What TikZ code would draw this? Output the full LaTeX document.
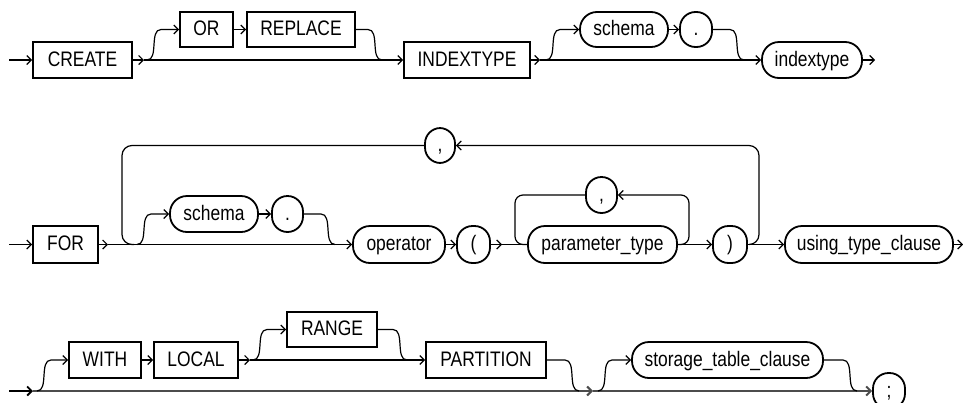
\documentclass[tikz,border=0pt]{standalone}
\usepackage{fontspec}
\setmainfont{Liberation Sans}[FakeStretch=0.83]
\usetikzlibrary{arrows.meta}
\begin{document}
\begin{tikzpicture}[x=1pt,y=-1pt,
  box/.style={draw, line width=1.8pt, inner sep=0pt, font=\fontsize{21}{24}\selectfont,
    text height=15.5pt, text depth=3pt, minimum height=36pt},
  kw/.style={box, rectangle},
  nt/.style={box, rectangle, rounded corners=17pt},
  pc/.style={box, rectangle, rounded corners=15.5pt},
  conn/.style={line width=1.2pt},
  tip/.style={-{Straight Barb[length=4.5pt,width=9pt]}},
  arr/.style={conn, tip},
  mainln/.style={line width=2pt, draw=black!70},
]
\useasboundingbox (0,0) rectangle (963,402);

% ---------- Row 1 ----------
\node[kw, minimum width=99pt]  (create)  at (82.5,60)   {CREATE};
\node[kw, minimum width=53pt, minimum height=35pt]  (or) at (206.5,29.5) {OR};
\node[kw, minimum width=108pt, minimum height=35pt] (replace) at (301,29.5) {REPLACE};
\node[kw, minimum width=126pt] (idxkw)   at (467,60)    {INDEXTYPE};
\node[nt, minimum width=88pt, minimum height=35pt]  (schema1) at (624,29.5) {schema};
\node[pc, minimum width=32pt, minimum height=35pt]  (dot1) at (696,29.5) {.};
\node[nt, minimum width=100pt] (idxnt)   at (812,60)    {indextype};

\coordinate (r1in) at (9,60);
\coordinate (r1a) at (144,60);
\coordinate (r1b) at (540,60);
\coordinate (r1out) at (875,60);

\draw[arr] (r1in) -- (create);
\draw[arr] (create) -- (r1a);
\draw[arr] (r1a) -- (idxkw);
\draw[arr] (147,60) .. controls (159,60) and (149,29.5) .. (161,29.5) -- (or);
\draw[arr] (or) -- (replace);
\draw[conn] (replace) -- (368,29.5) .. controls (380,29.5) and (370,60) .. (382,60);
\draw[arr] (idxkw) -- (r1b);
\draw[arr] (r1b) -- (idxnt);
\draw[arr] (546,60) .. controls (558,60) and (548,29.5) .. (560,29.5) -- (schema1);
\draw[arr] (schema1) -- (dot1);
\draw[conn] (dot1) -- (730,29.5) .. controls (742,29.5) and (732,60) .. (744,60);
\draw[arr] (idxnt) -- (r1out);

% ---------- Row 2 ----------
\node[kw, minimum width=65pt, minimum height=37pt] (for) at (65.5,244.5) {FOR};
\node[pc, minimum width=30pt, minimum height=35pt] (comma1) at (440,145.5) {,};
\node[nt, minimum width=88pt] (schema2) at (214,214) {schema};
\node[pc, minimum width=31pt] (dot2) at (287.5,214) {.};
\node[nt, minimum width=92pt, minimum height=37pt] (operator) at (399,244.5) {operator};
\node[pc, minimum width=33pt, minimum height=37pt] (lparen) at (473.5,244.5) {(};
\node[pc, minimum width=31pt] (comma2) at (601.5,195) {,};
\node[nt, minimum width=149pt, minimum height=37pt] (param) at (602.5,244.5) {parameter\_type};
\node[pc, minimum width=34pt, minimum height=37pt] (rparen) at (730,244.5) {)};
\node[nt, minimum width=168pt, minimum height=37pt] (using) at (869,244.5) {using\_type\_clause};

\coordinate (r2in) at (9,244.5);
\coordinate (r2a) at (108,244.5);
\coordinate (r2b) at (502,244.5);
\coordinate (r2out) at (963,244.5);

\draw[arr] (r2in) -- (for);
\draw[arr] (for) -- (r2a);
\draw[arr] (r2a) -- (operator);
\draw[arr] (137,244.5) .. controls (149,244.5) and (139,214) .. (151,214) -- (schema2);
\draw[arr] (schema2) -- (dot2);
\draw[conn] (dot2) -- (321,214) .. controls (333,214) and (323,244.5) .. (335,244.5);
\draw[arr] (operator) -- (lparen);
\draw[arr] (lparen) -- (r2b);
\draw[conn] (r2b) -- (param);
\draw[arr, rounded corners=8pt] (param.east) -| (689,195) -- (comma2.east);
\draw[conn, rounded corners=8pt] (comma2.west) -| (515,244.5) -- (param.west);
\draw[arr] (param) -- (rparen);
\draw[arr] (rparen) -- (using);
\draw[arr, rounded corners=10pt] (749,244.5) -| (759,145.5) -- (comma1.east);
\draw[conn, rounded corners=10pt] (comma1.west) -| (122,244.5) -- (134,244.5);
\draw[arr] (using) -- (r2out);

% ---------- Row 3 ----------
\node[kw, minimum width=72pt] (with) at (105,360) {WITH};
\node[kw, minimum width=84pt] (local) at (196,360) {LOCAL};
\node[kw, minimum width=90pt, minimum height=35pt] (range) at (332,329.5) {RANGE};
\node[kw, minimum width=120pt] (partition) at (486,360) {PARTITION};
\node[nt, minimum width=191pt] (storage) at (727.5,360) {storage\_table\_clause};
\node[pc, minimum width=32pt] (semi) at (889,391) {;};

\coordinate (r3in) at (9,391);
\coordinate (r3a) at (33,391);
\coordinate (r3b) at (593,391);
\coordinate (r3c) at (250,360);

\draw[line width=1.8pt, tip] (r3in) -- (r3a);
\draw[mainln, tip] (r3a) -- (r3b);
\draw[mainln, tip] (r3b) -- (semi);
\draw[arr] (37,391) .. controls (49,391) and (39,360) .. (51,360) -- (with);
\draw[arr] (with) -- (local);
\draw[arr] (local) -- (r3c);
\draw[arr] (r3c) -- (partition);
\draw[arr] (253,360) .. controls (265,360) and (255,329.5) .. (267,329.5) -- (range);
\draw[conn] (range) -- (393,329.5) .. controls (405,329.5) and (395,360) .. (407,360);
\draw[conn] (partition) -- (565,360) .. controls (577,360) and (567,391) .. (579,391);
\draw[arr] (598,391) .. controls (610,391) and (600,360) .. (612,360) -- (storage);
\draw[conn] (storage) -- (843,360) .. controls (855,360) and (845,391) .. (857,391);
\end{tikzpicture}
\end{document}
